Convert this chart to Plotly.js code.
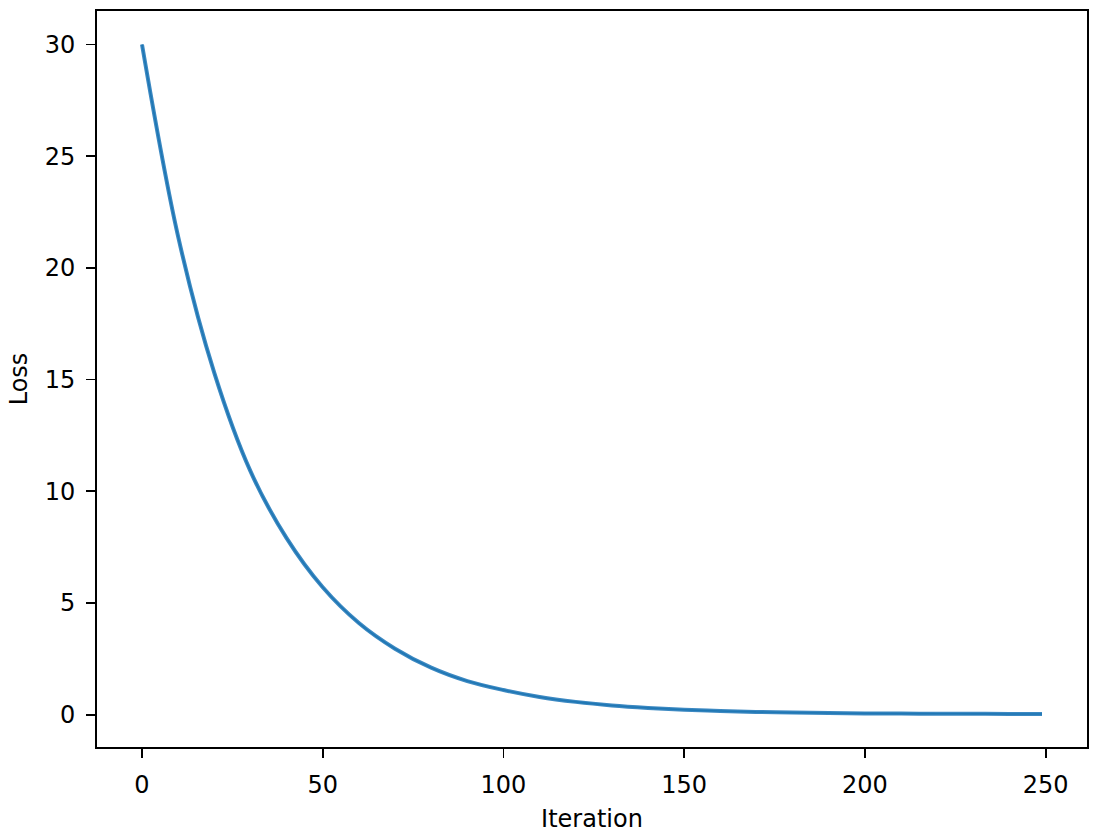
<!DOCTYPE html>
<html>
<head>
<meta charset="utf-8">
<script src="https://cdn.plot.ly/plotly-3.0.1.min.js"></script>
<style>html,body{margin:0;padding:0;background:#fff;}#chart{width:1100px;height:835px;}</style>
</head>
<body>
<div id="chart"></div>
<script>
const iterations = [0,10,20,30,40,50,60,70,80,90,100,110,120,130,140,150,160,170,180,190,200,210,220,230,240,249];
const loss = [30.0,21.4,15.3,10.9,7.9,5.7,4.1,2.95,2.1,1.5,1.1,0.79,0.57,0.41,0.30,0.22,0.16,0.12,0.09,0.07,0.055,0.045,0.04,0.035,0.03,0.03];
const xTicks = [0,50,100,150,200,250];
const yTicks = [0,5,10,15,20,25,30];

const font = {family: "DejaVu Sans", size: 24, color: "#000"};
const outer = {
  x: iterations, y: loss, type: "scatter", mode: "lines",
  line: {color: "#3d89c2", width: 4, shape: "spline", smoothing: 1},
  hoverinfo: "skip"
};
const inner = {
  x: iterations, y: loss, type: "scatter", mode: "lines",
  line: {color: "#1f77b4", width: 1.6, shape: "spline", smoothing: 1},
  hoverinfo: "skip"
};
const axisBase = {
  showgrid: false, zeroline: false, showline: true, linecolor: "#000", linewidth: 1.8,
  mirror: true, ticks: "outside", ticklen: 9, tickwidth: 1.8, tickcolor: "#000",
  tickfont: font, ticklabelstandoff: 6
};
const layout = {
  width: 1100, height: 835,
  margin: {l: 97, r: 13, t: 11, b: 88},
  paper_bgcolor: "#fff", plot_bgcolor: "#fff",
  showlegend: false, font: font,
  xaxis: Object.assign({}, axisBase, {
    range: [-12.45, 261.45], tickvals: xTicks, ticktext: xTicks.map(String),
    title: {text: "Iteration", font: font, standoff: 13}
  }),
  yaxis: Object.assign({}, axisBase, {
    range: [-1.45, 31.5], tickvals: yTicks, ticktext: yTicks.map(String),
    title: {text: "Loss", font: font, standoff: 10}
  })
};
Plotly.newPlot("chart", [outer, inner], layout, {staticPlot: true, displayModeBar: false});
</script>
</body>
</html>
